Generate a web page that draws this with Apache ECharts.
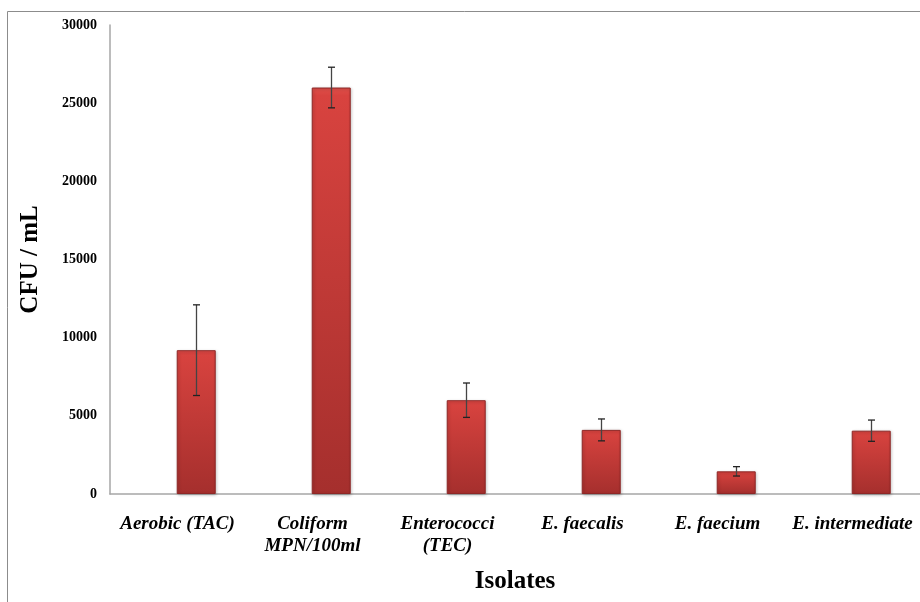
<!DOCTYPE html>
<html>
<head>
<meta charset="utf-8">
<script src="https://cdn.jsdelivr.net/npm/echarts@6/dist/echarts.min.js"></script>
<style>html,body{margin:0;padding:0;background:#fff;}#c{width:920px;height:602px;}</style>
</head>
<body>
<div id="c"></div>
<script>
var categories = ['Aerobic (TAC)', 'Coliform\nMPN/100ml', 'Enterococci\n(TEC)', 'E. faecalis', 'E. faecium', 'E. intermediate'];
var values = [9200, 26000, 6000, 4100, 1450, 4050];
var errors = [2900, 1300, 1100, 700, 300, 680];
var yTicks = { min: 0, max: 30000, interval: 5000 };

var BAR_W = 39;
var GAP = -0.04;
var FONT = '"Liberation Serif", "Times New Roman", serif';

var chart = echarts.init(document.getElementById('c'), null, { renderer: 'canvas' });

var errData = values.map(function (v, i) { return [i, v - errors[i], v + errors[i]]; });

chart.setOption({
  animation: false,
  backgroundColor: '#ffffff',
  graphic: [{
    type: 'rect',
    shape: { x: 7.5, y: 11.5, width: 1000, height: 1000 },
    style: { fill: 'none', stroke: '#8c8c8c', lineWidth: 1 },
    silent: true, z: -10
  }],
  grid: { left: 110, right: 0, top: 25, bottom: 108, containLabel: false },
  xAxis: {
    type: 'category',
    data: categories,
    name: 'Isolates',
    nameLocation: 'middle',
    nameGap: 75,
    nameTextStyle: { fontFamily: FONT, fontWeight: 'bold', fontSize: 25, color: '#000' },
    axisLine: { show: true, lineStyle: { color: '#a6a6a6', width: 1.5 } },
    axisTick: { show: false },
    splitLine: { show: false },
    axisLabel: {
      interval: 0, margin: 19,
      fontFamily: FONT, fontWeight: 'bold', fontStyle: 'italic', fontSize: 19, lineHeight: 22,
      color: '#000'
    }
  },
  yAxis: {
    type: 'value',
    min: yTicks.min, max: yTicks.max, interval: yTicks.interval,
    name: 'CFU / mL',
    nameLocation: 'middle',
    nameGap: 67,
    nameTextStyle: { fontFamily: FONT, fontWeight: 'bold', fontSize: 25, color: '#000' },
    axisLine: { show: true, lineStyle: { color: '#a6a6a6', width: 1.5 } },
    axisTick: { show: false },
    splitLine: { show: false },
    axisLabel: {
      margin: 13, fontFamily: FONT, fontWeight: 'bold', fontSize: 14, color: '#000',
      formatter: function (v) { return String(v); }
    }
  },
  series: [
    {
      type: 'bar',
      name: 'placeholder',
      data: values.map(function () { return null; }),
      barWidth: BAR_W,
      barGap: (GAP * 100) + '%'
    },
    {
      type: 'bar',
      name: 'CFU',
      data: values,
      barWidth: BAR_W,
      barGap: (GAP * 100) + '%',
      itemStyle: {
        color: new echarts.graphic.LinearGradient(0, 0, 0, 1, [
          { offset: 0, color: '#e0504b' },
          { offset: 0.02, color: '#d8433f' },
          { offset: 1, color: '#a52f2d' }
        ]),
        borderColor: '#8e2726',
        borderWidth: 1,
        shadowColor: 'rgba(0,0,0,0.25)',
        shadowBlur: 3,
        shadowOffsetX: 1,
        shadowOffsetY: 1
      }
    },
    {
      type: 'custom',
      name: 'error',
      data: errData,
      z: 10,
      renderItem: function (params, api) {
        var i = api.value(0);
        var lo = api.coord([i, api.value(1)]);
        var hi = api.coord([i, api.value(2)]);
        var off = BAR_W * (1 + GAP) / 2;
        var x = Math.round(lo[0] + off) + 0.5;
        var cap = 3.5;
        var st = { stroke: '#222', lineWidth: 1.3 };
        return {
          type: 'group',
          children: [
            { type: 'line', shape: { x1: x, y1: hi[1], x2: x, y2: lo[1] }, style: { stroke: '#444', lineWidth: 1.3 } },
            { type: 'line', shape: { x1: x - cap, y1: hi[1], x2: x + cap, y2: hi[1] }, style: st },
            { type: 'line', shape: { x1: x - cap, y1: lo[1], x2: x + cap, y2: lo[1] }, style: st }
          ]
        };
      }
    }
  ]
});
</script>
</body>
</html>
